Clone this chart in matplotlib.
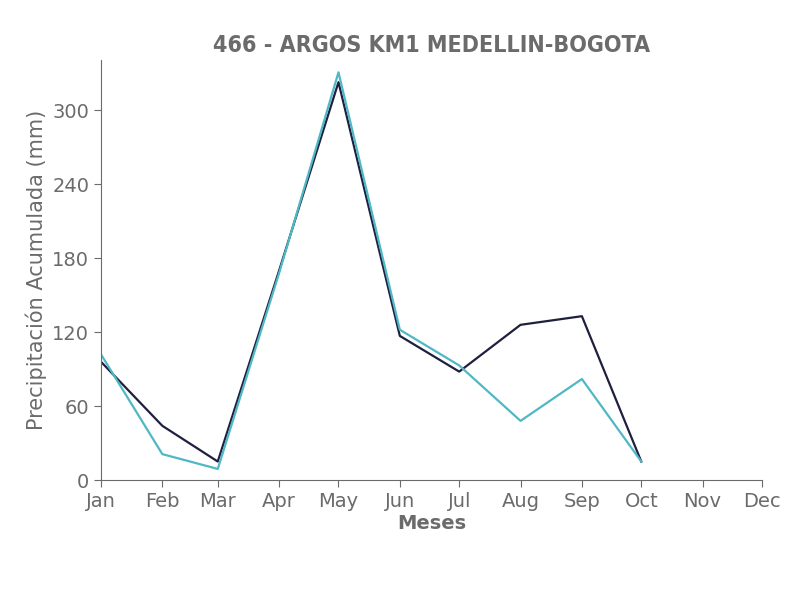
import datetime as dt
import matplotlib as mpl
mpl.use('Agg')
import matplotlib.pyplot as plt
import matplotlib.dates as mdates

months = [dt.date(2023, m, 1) for m in range(1, 11)]
serie_a = [96, 44, 15, 170, 323, 117, 88, 126, 133, 15]
serie_b = [102, 21, 9, 168, 331, 122, 93, 48, 82, 15]
month_labels = ['Jan', 'Feb', 'Mar', 'Apr', 'May', 'Jun',
                'Jul', 'Aug', 'Sep', 'Oct', 'Nov', 'Dec']

gray = '#6b6b6b'

fig = plt.figure(figsize=(8.06, 6.0), dpi=100)
ax = fig.add_axes([0.1253, 0.2, 0.8201, 0.7])

ax.plot(months, serie_a, color='#1f1f40', lw=1.6)
ax.plot(months, serie_b, color='#4fb8c4', lw=1.6)

ax.set_xlim(dt.date(2023, 1, 1), dt.date(2023, 12, 1))
ax.set_ylim(0, 341)
ax.set_xticks([dt.date(2023, m, 1) for m in range(1, 13)])
ax.set_xticklabels(month_labels)
ax.set_yticks([0, 60, 120, 180, 240, 300])

for s in ['top', 'right']:
    ax.spines[s].set_visible(False)
for s in ['left', 'bottom']:
    ax.spines[s].set_color(gray)
    ax.spines[s].set_linewidth(0.8)

ax.tick_params(colors=gray, labelsize=14, length=5)
ax.set_xlabel('Meses', fontsize=14, fontweight='bold', color=gray, labelpad=2)
ax.set_ylabel('Precipitación Acumulada (mm)', fontsize=15, color=gray, labelpad=4)
ax.set_title('466 - ARGOS KM1 MEDELLIN-BOGOTA', fontsize=16.7, fontweight='bold',
             fontstretch='condensed', color=gray, pad=6)

fig.savefig('out.png', dpi=100)
